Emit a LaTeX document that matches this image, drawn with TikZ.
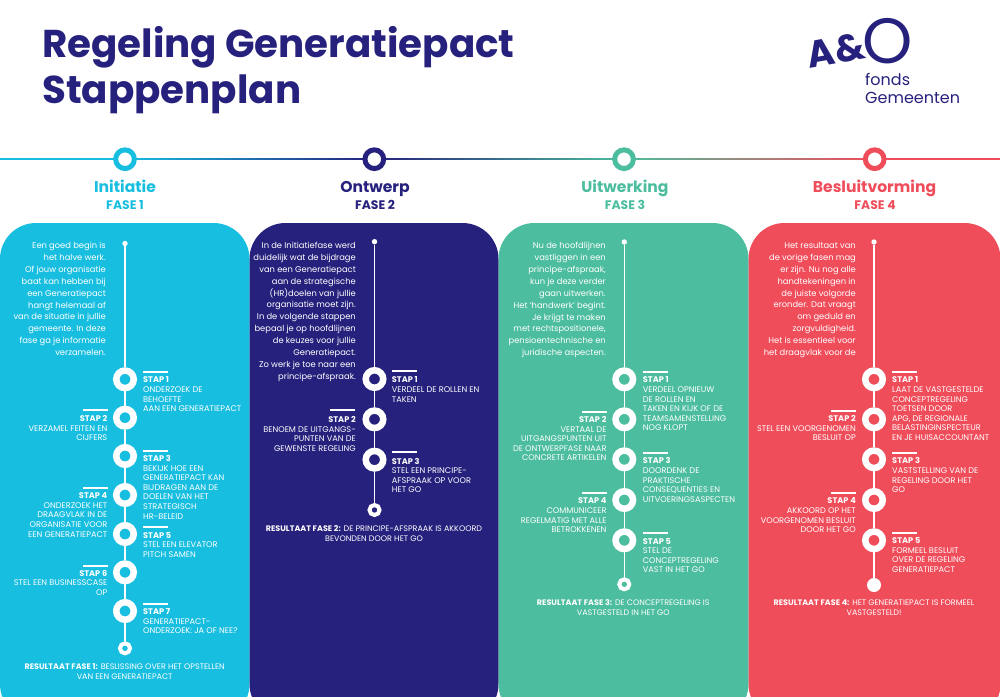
\documentclass[tikz,border=0pt]{standalone}
\usepackage{fontspec}
\setmainfont{Poppins}
\usepackage{tikz}

\definecolor{fasea}{RGB}{24,190,224}
\definecolor{faseb}{RGB}{38,33,124}
\definecolor{fasec}{RGB}{76,189,158}
\definecolor{fased}{RGB}{240,77,91}

\pgfdeclarehorizontalshading{tijdlijn}{100bp}{color(0bp)=(fasea); color(25bp)=(fasea); color(31.25bp)=(fasea);
  color(43.7bp)=(faseb); color(56.2bp)=(fasec); color(68.75bp)=(fased); color(75bp)=(fased); color(100bp)=(fased)}

\tikzset{
  intro/.style={anchor=north east, inner sep=0, text=white, align=right, font=\fontsize{8.35}{11.87}\selectfont},
  stapr/.style={anchor=north west, inner sep=0, text=white, align=left, font=\fontsize{8.2}{9.6}\selectfont},
  stapl/.style={anchor=north east, inner sep=0, text=white, align=right, font=\fontsize{8.2}{9.6}\selectfont},
  resultaat/.style={inner sep=0, text=white, align=center, font=\fontsize{8}{9.6}\selectfont},
  balkr/.style={anchor=west, inner sep=0, fill=white, minimum width=25, minimum height=2},
  balkl/.style={anchor=east, inner sep=0, fill=white, minimum width=25, minimum height=2},
  ring/.style={circle, draw=white, line width=6.5, minimum size=17.5, inner sep=0},
  eind/.style={circle, draw=white, line width=4, minimum size=10, inner sep=0},
  punt/.style={circle, fill=white, minimum size=5.4, inner sep=0},
  rail/.style={draw=white, line width=1.5},
  fasering/.style={circle, fill=white, line width=5, minimum size=18.7, inner sep=0},
  fasenaam/.style={anchor=base, inner sep=0, font=\fontsize{15.6}{17}\selectfont\bfseries},
  fasenr/.style={anchor=base, inner sep=0, font=\fontsize{12.4}{14}\selectfont\bfseries}
}

\begin{document}
\begin{tikzpicture}[x=1pt, y=-1pt]
        \useasboundingbox (0,0) rectangle (1000,696);

        \node[anchor=base west, inner sep=0, text=faseb, align=left, font=\fontsize{38.8}{46}\selectfont\bfseries] (titel) at (42,103) {Regeling Generatiepact\\Stappenplan};

        \node[rotate=10, inner sep=0, text=faseb, font=\fontsize{37.5}{40}\selectfont\bfseries] (ampers) at (836,50.5) {A\&};
        \node[inner sep=0, text=faseb, font=\fontsize{64}{66}\selectfont] (ooo) at (887.5,41) {O};
        \node[anchor=base west, inner sep=0, text=faseb, align=left, font=\fontsize{16}{18}\selectfont] (fonds) at (865,103.5) {fonds\\Gemeenten};

        \shade[shading=tijdlijn] (0,158.5) rectangle (1000,159.9);

        \node[fasering, draw=fasea] (fa) at (125,159.2) {};
        \node[fasering, draw=faseb] (fb) at (374.3,159.2) {};
        \node[fasering, draw=fasec] (fc) at (624,159.2) {};
        \node[fasering, draw=fased] (fd) at (874.7,159.2) {};

        \node[fasenaam, text=fasea] (na) at (125,192.7) {Initiatie};
        \node[fasenaam, text=faseb] (nb) at (375,192.7) {Ontwerp};
        \node[fasenaam, text=fasec] (nc) at (625,192.7) {Uitwerking};
        \node[fasenaam, text=fased] (nd) at (874.5,192.7) {Besluitvorming};

        \node[fasenr, text=fasea] (ra) at (125,209) {FASE 1};
        \node[fasenr, text=faseb] (rb) at (375,209) {FASE 2};
        \node[fasenr, text=fasec] (rc) at (625,209) {FASE 3};
        \node[fasenr, text=fased] (rd) at (875,209) {FASE 4};

        \begin{scope}
        \fill[fasea, rounded corners=36] (0,720) -- (0,223) -- (249.5,223) -- (249.5,720) -- cycle;

        \node[punt] (p) at (125,243.5) {};
        \node[ring] (a) at (125,379.3) {};
        \node[ring] (b) at (125,417.7) {};
        \node[ring] (c) at (125,456) {};
        \node[ring] (d) at (125,495) {};
        \node[ring] (e) at (125,534) {};
        \node[ring] (f) at (125,572.3) {};
        \node[ring] (g) at (125,611) {};
        \node[eind] (h) at (125,648.3) {};
        \draw[rail] (p) -- (a) -- (b) -- (c) -- (d) -- (e) -- (f) -- (g) -- (h);

        \node[intro] (i) at (106,242.2) {Een goed begin is\\het halve werk.\\Of jouw organisatie\\baat kan hebben bij\\een Generatiepact\\hangt helemaal af\\van de situatie in jullie\\gemeente. In deze\\fase ga je informatie\\verzamelen.};

        \node[balkr] (ba) at (143,372.3) {};
        \node[balkl] (bb) at (108,410) {};
        \node[balkr] (bc) at (143,450.7) {};
        \node[balkl] (bd) at (108,488.3) {};
        \node[balkr] (be) at (143,527.3) {};
        \node[balkl] (bf) at (108,565.7) {};
        \node[balkr] (bg) at (143,604.3) {};

        \node[stapr] (ta) at (143,376.8) {\textbf{STAP 1}\\ONDERZOEK DE\\BEHOEFTE\\AAN EEN GENERATIEPACT};
        \node[stapl] (tb) at (107.5,415.1) {\textbf{STAP 2}\\VERZAMEL FEITEN EN\\CIJFERS};
        \node[stapr] (tc) at (143,455.1) {\textbf{STAP 3}\\BEKIJK HOE EEN\\GENERATIEPACT KAN\\BIJDRAGEN AAN DE\\DOELEN VAN HET\\STRATEGISCH\\HR-BELEID};
        \node[stapl] (td) at (107.5,492.5) {\textbf{STAP 4}\\ONDERZOEK HET\\DRAAGVLAK IN DE\\ORGANISATIE VOOR\\EEN GENERATIEPACT};
        \node[stapr] (te) at (143,531.8) {\textbf{STAP 5}\\STEL EEN ELEVATOR\\PITCH SAMEN};
        \node[stapl] (tf) at (107.5,569.8) {\textbf{STAP 6}\\STEL EEN BUSINESSCASE\\OP};
        \node[stapr] (tg) at (143,608.5) {\textbf{STAP 7}\\GENERATIEPACT-\\ONDERZOEK: JA OF NEE?};

        \node[resultaat] (r) at (124.7,671.3) {\textbf{RESULTAAT FASE 1:} BESLISSING OVER HET OPSTELLEN\\VAN EEN GENERATIEPACT};
        \end{scope}

        \begin{scope}[xshift=249.5pt]
        \fill[faseb, rounded corners=36] (0,720) -- (0,223) -- (249,223) -- (249,720) -- cycle;

        \node[punt] (p) at (125,241.7) {};
        \node[ring] (a) at (125,379) {};
        \node[ring] (b) at (125,419.3) {};
        \node[ring] (c) at (125,459.7) {};
        \node[eind] (h) at (125,510) {};
        \draw[rail] (p) -- (a) -- (b) -- (c) -- (h);

        \node[intro] (i) at (106.5,242) {In de Initiatiefase werd\\duidelijk wat de bijdrage\\van een Generatiepact\\aan de strategische\\(HR)doelen van jullie\\organisatie moet zijn.\\In de volgende stappen\\bepaal je op hoofdlijnen\\de keuzes voor jullie\\Generatiepact.\\Zo werk je toe naar een\\principe-afspraak.};

        \node[balkr] (ba) at (142.2,371) {};
        \node[balkl] (bb) at (106,410) {};
        \node[balkr] (bc) at (142.2,451.5) {};

        \node[stapr] (ta) at (142.2,376.8) {\textbf{STAP 1}\\VERDEEL DE ROLLEN EN\\TAKEN};
        \node[stapl] (tb) at (106.5,416.1) {\textbf{STAP 2}\\BENOEM DE UITGANGS-\\PUNTEN VAN DE\\GEWENSTE REGELING};
        \node[stapr] (tc) at (142.2,457.8) {\textbf{STAP 3}\\STEL EEN PRINCIPE-\\AFSPRAAK OP VOOR\\HET GO};

        \node[resultaat] (r) at (124.5,533.3) {\textbf{RESULTAAT FASE 2:} DE PRINCIPE-AFSPRAAK IS AKKOORD\\BEVONDEN DOOR HET GO};
        \end{scope}

        \begin{scope}[xshift=498.5pt]
        \fill[fasec, rounded corners=36] (0,720) -- (0,223) -- (250,223) -- (250,720) -- cycle;

        \node[punt] (p) at (125.8,242) {};
        \node[ring] (a) at (125.8,379.3) {};
        \node[ring] (b) at (125.8,419.3) {};
        \node[ring] (c) at (125.8,459.3) {};
        \node[ring] (d) at (125.8,500) {};
        \node[ring] (e) at (125.8,540.3) {};
        \node[eind] (h) at (125.8,584.3) {};
        \draw[rail] (p) -- (a) -- (b) -- (c) -- (d) -- (e) -- (h);

        \node[intro] (i) at (107.5,242.2) {Nu de hoofdlijnen\\vastliggen in een\\principe-afspraak,\\kun je deze verder\\gaan uitwerken.\\Het ‘handwerk’ begint.\\Je krijgt te maken\\met rechtspositionele,\\pensioentechnische en\\juridische aspecten.};

        \node[balkr] (ba) at (144.2,372.3) {};
        \node[balkl] (bb) at (108.2,411.7) {};
        \node[balkr] (bc) at (144.2,452.7) {};
        \node[balkl] (bd) at (108.2,493.3) {};
        \node[balkr] (be) at (144.2,532.7) {};

        \node[stapr] (ta) at (144.2,376.8) {\textbf{STAP 1}\\VERDEEL OPNIEUW\\DE ROLLEN EN\\TAKEN EN KIJK OF DE\\TEAMSAMENSTELLING\\NOG KLOPT};
        \node[stapl] (tb) at (108.2,416.1) {\textbf{STAP 2}\\VERTAAL DE\\UITGANGSPUNTEN UIT\\DE ONTWERPFASE NAAR\\CONCRETE ARTIKELEN};
        \node[stapr] (tc) at (144.2,457.5) {\textbf{STAP 3}\\DOORDENK DE\\PRAKTISCHE\\CONSEQUENTIES EN\\UITVOERINGSASPECTEN};
        \node[stapl] (td) at (108.2,497.8) {\textbf{STAP 4}\\COMMUNICEER\\REGELMATIG MET ALLE\\BETROKKENEN};
        \node[stapr] (te) at (144.2,537.8) {\textbf{STAP 5}\\STEL DE\\CONCEPTREGELING\\VAST IN HET GO};

        \node[resultaat] (r) at (124.8,607.5) {\textbf{RESULTAAT FASE 3:} DE CONCEPTREGELING IS\\VASTGESTELD IN HET GO};
        \end{scope}

        \begin{scope}[xshift=748.5pt]
        \fill[fased, rounded corners=36] (0,720) -- (0,223) -- (252,223) -- (252,720) -- cycle;

        \node[punt] (p) at (125.5,242) {};
        \node[ring] (a) at (125.5,379.3) {};
        \node[ring] (b) at (125.5,419.3) {};
        \node[ring] (c) at (125.5,459.3) {};
        \node[ring] (d) at (125.5,500) {};
        \node[ring] (e) at (125.5,540.3) {};
        \node[circle, fill=white, minimum size=14, inner sep=0] (h) at (125.5,585) {};
        \draw[rail] (p) -- (a) -- (b) -- (c) -- (d) -- (e) -- (h);

        \node[intro] (i) at (107.5,242.2) {Het resultaat van\\de vorige fasen mag\\er zijn. Nu nog alle\\handtekeningen in\\de juiste volgorde\\eronder. Dat vraagt\\om geduld en\\zorgvuldigheid.\\Het is essentieel voor\\het draagvlak voor de};

        \node[balkr] (ba) at (143.5,372.3) {};
        \node[balkl] (bb) at (107.5,411) {};
        \node[balkr] (bc) at (143.5,453) {};
        \node[balkl] (bd) at (107.5,493.3) {};
        \node[balkr] (be) at (143.5,533) {};

        \node[stapr] (ta) at (143.5,376.8) {\textbf{STAP 1}\\LAAT DE VASTGESTELDE\\CONCEPTREGELING\\TOETSEN DOOR\\APG, DE REGIONALE\\BELASTINGINSPECTEUR\\EN JE HUISACCOUNTANT};
        \node[stapl] (tb) at (107.5,415.3) {\textbf{STAP 2}\\STEL EEN VOORGENOMEN\\BESLUIT OP};
        \node[stapr] (tc) at (143.5,457.5) {\textbf{STAP 3}\\VASTSTELLING VAN DE\\REGELING DOOR HET\\GO};
        \node[stapl] (td) at (107.5,497.8) {\textbf{STAP 4}\\AKKOORD OP HET\\VOORGENOMEN BESLUIT\\DOOR HET GO};
        \node[stapr] (te) at (143.5,537.3) {\textbf{STAP 5}\\FORMEEL BESLUIT\\OVER DE REGELING\\GENERATIEPACT};

        \node[resultaat] (r) at (125.5,607.7) {\textbf{RESULTAAT FASE 4:} HET GENERATIEPACT IS FORMEEL\\VASTGESTELD!};
        \end{scope}

      \end{tikzpicture}
\end{document}
